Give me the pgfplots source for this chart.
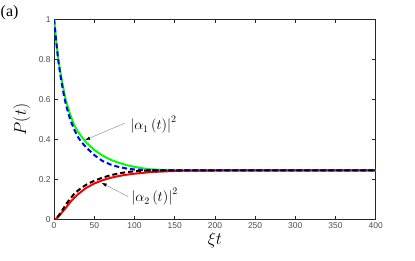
\documentclass[border=0pt]{standalone}
\usepackage{fontspec}
\usepackage{pgfplots}
\pgfplotsset{compat=1.18}
\usetikzlibrary{arrows.meta}
\newfontfamily\helv{Liberation Sans}
\newfontfamily\tms{Liberation Serif}
\definecolor{axgray}{gray}{0.15}
\definecolor{lblgray}{gray}{0.3}
\begin{document}
\begin{tikzpicture}[x=1bp,y=1bp]
\useasboundingbox (0,0) rectangle (415,261);
\node[anchor=west, inner sep=0, font=\tms\fontsize{16}{18}\selectfont] at (0.5,248.5) {(a)};
\begin{axis}[
  at={(54.1bp,41.5bp)}, anchor=south west,
  scale only axis, width=321.6bp, height=200bp,
  xmin=0, xmax=400, ymin=0, ymax=1,
  xtick={0,50,100,150,200,250,300,350,400},
  ytick={0,0.2,0.4,0.6,0.8,1},
  tick align=inside, major tick length=3.5bp,
  axis line style={axgray, line width=0.5bp},
  every tick/.style={axgray, line width=0.5bp},
  tick label style={font=\helv\fontsize{8.5}{9}\selectfont, text=lblgray},
  /pgf/number format/assume math mode=true,
  xlabel={$\xi t$}, ylabel={$P(t)$},
  xlabel style={at={(axis description cs:0.5,-0.105)}, anchor=center, font=\fontsize{16}{18}\selectfont},
  ylabel style={at={(axis description cs:-0.1,0.5)}, anchor=center, font=\fontsize{16}{18}\selectfont},
  clip=true,
]
\addplot[green, line width=2bp] coordinates {
(0,1.0) (2.5,0.9) (5,0.81) (7.5,0.745) (10,0.69) (12.5,0.635) (15,0.59) (20,0.525) (25,0.472) (30,0.437) (35,0.41) (40,0.385) (50,0.348) (60,0.32) (70,0.299) (80,0.284) (90,0.272) (100,0.263) (110,0.256) (120,0.251) (140,0.247) (160,0.2455) (200,0.245) (400,0.245)};
\addplot[red, line width=2bp] coordinates {
(0,0) (3,0.005) (5,0.013) (7.5,0.024) (10,0.036) (15,0.06) (20,0.086) (25,0.108) (30,0.127) (35,0.143) (40,0.158) (50,0.18) (60,0.196) (70,0.208) (80,0.217) (90,0.224) (100,0.229) (120,0.237) (140,0.241) (160,0.244) (200,0.245) (400,0.245)};
\addplot[blue, line width=2bp, dash pattern=on 5bp off 3bp] coordinates {
(0,1.0) (2.5,0.895) (5,0.8) (7.5,0.73) (10,0.67) (12.5,0.615) (15,0.57) (20,0.5) (25,0.45) (30,0.41) (35,0.383) (40,0.36) (50,0.322) (60,0.293) (70,0.275) (80,0.263) (90,0.255) (100,0.25) (120,0.246) (140,0.245) (400,0.245)};
\addplot[black, line width=2bp, dash pattern=on 5bp off 3bp, dash phase=4bp] coordinates {
(0,0) (3,0.007) (5,0.017) (7.5,0.03) (10,0.045) (15,0.077) (20,0.104) (25,0.128) (30,0.146) (35,0.161) (40,0.174) (50,0.194) (60,0.209) (70,0.221) (80,0.23) (90,0.237) (100,0.241) (110,0.244) (120,0.245) (400,0.245)};
\draw[gray, line width=0.4bp, -{Latex[black,length=5bp,width=3.5bp]}] (axis cs:88.2,0.4825) -- (axis cs:38.6,0.397);
\draw[gray, line width=0.4bp, -{Latex[black,length=5bp,width=3.5bp]}] (axis cs:92.3,0.114) -- (axis cs:59.2,0.183);
\node[anchor=west, inner sep=0, font=\fontsize{14}{16}\selectfont] at (axis cs:94.5,0.4725) {$\bigl|\alpha_1\left(t\right)\bigr|^2$};
\node[anchor=west, inner sep=0, font=\fontsize{14}{16}\selectfont] at (axis cs:96,0.1125) {$\bigl|\alpha_2\left(t\right)\bigr|^2$};
\end{axis}
\end{tikzpicture}
\end{document}
